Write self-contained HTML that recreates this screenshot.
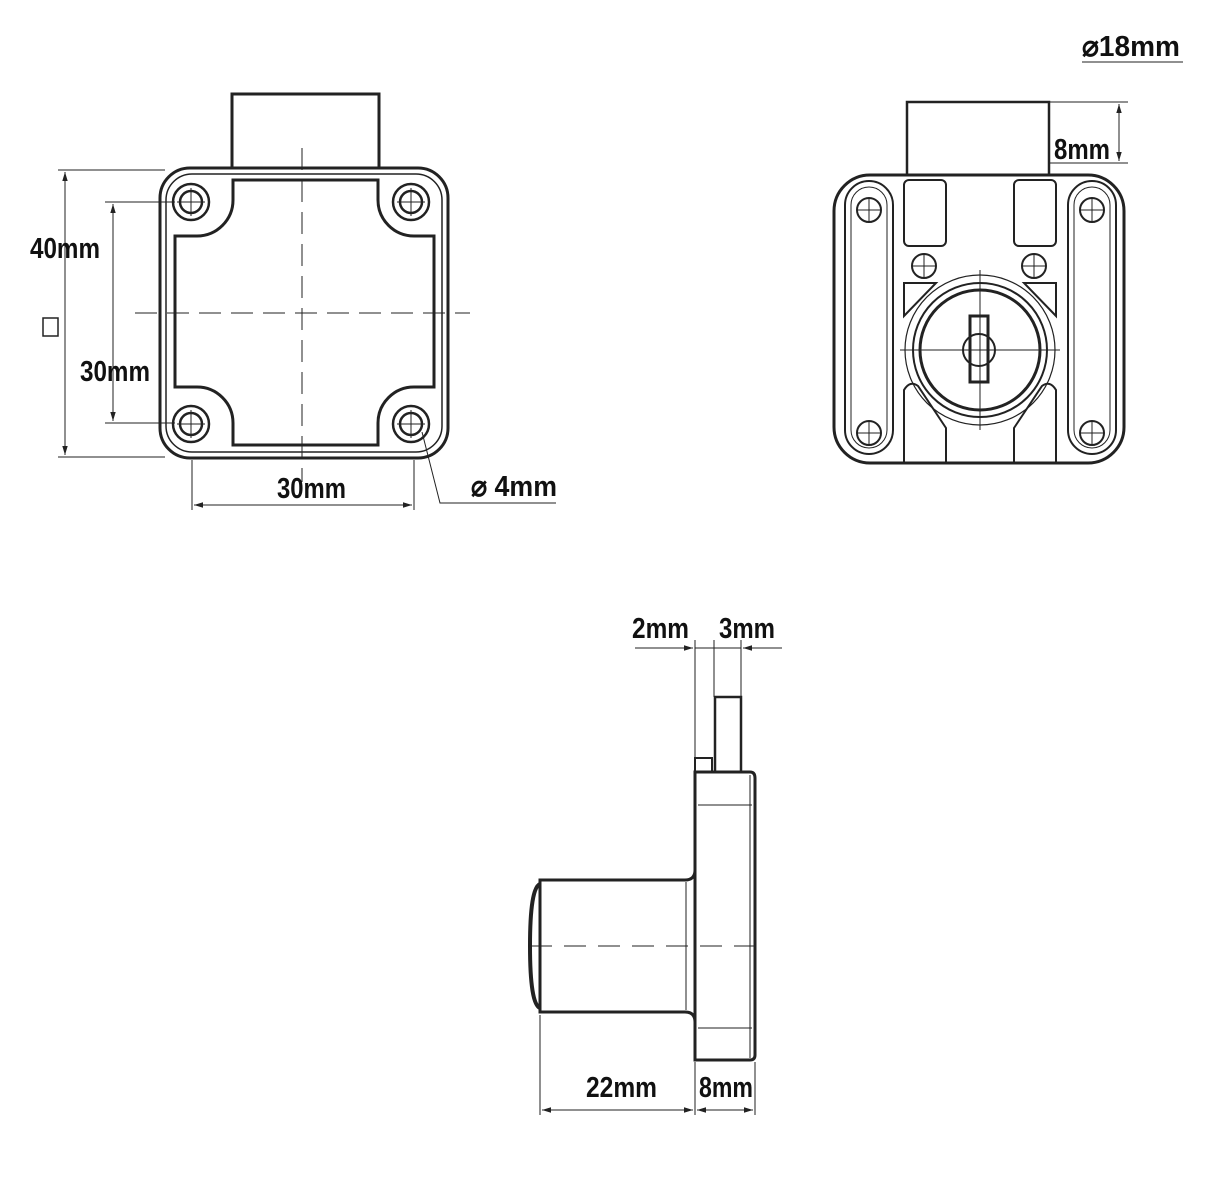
<!DOCTYPE html>
<html><head><meta charset="utf-8"><style>
html,body{margin:0;padding:0;background:#fff}
svg{display:block}
text{font-family:"Liberation Sans Narrow","Liberation Sans",sans-serif;font-weight:bold;font-size:29px;fill:#111}
</style></head><body>
<svg width="1232" height="1189" viewBox="0 0 1232 1189" xmlns="http://www.w3.org/2000/svg">
<defs>
<marker id="a" viewBox="0 0 10 10" refX="10" refY="5" markerWidth="9" markerHeight="9" orient="auto-start-reverse"><path d="M0,2 L10,5 L0,8 z" fill="#222"/></marker>
</defs>
<g fill="none" stroke="#222" stroke-width="3">
<!-- LEFT VIEW -->
<rect x="232" y="94" width="147" height="74"/>
<rect x="160" y="168" width="288" height="290" rx="30"/>
<rect x="166" y="174" width="276" height="278" rx="26" stroke-width="1.5"/>
<path d="M233,180 H378 V200 A36,36 0 0 0 414,236 H434 V387 H414 A36,36 0 0 0 378,423 V445 H233 V423 A36,36 0 0 0 197,387 H175 V236 H197 A36,36 0 0 0 233,200 Z"/>
<g stroke-width="2.5">
<circle cx="191" cy="202" r="18"/><circle cx="191" cy="202" r="11"/>
<circle cx="411" cy="202" r="18"/><circle cx="411" cy="202" r="11"/>
<circle cx="191" cy="424" r="18"/><circle cx="191" cy="424" r="11"/>
<circle cx="411" cy="424" r="18"/><circle cx="411" cy="424" r="11"/>
</g>
<g stroke-width="1">
<path d="M191,188 V216 M177,202 H205 M411,188 V216 M397,202 H425 M191,410 V438 M177,424 H205 M411,410 V438 M397,424 H425"/>
<path d="M302,148 V482" stroke-dasharray="22,10"/>
<path d="M135,313 H470" stroke-dasharray="22,10"/>
<path d="M58,170 H165 M58,457 H165 M105,202 H175 M105,423 H175"/>
<path d="M65,172 V455" marker-start="url(#a)" marker-end="url(#a)"/>
<path d="M113,204 V421" marker-start="url(#a)" marker-end="url(#a)"/>
<path d="M192,460 V510 M414,460 V510"/>
<path d="M194,505 H412" marker-start="url(#a)" marker-end="url(#a)"/>
<path d="M422,432 L440,503 H556"/>
<rect x="43" y="318" width="15" height="18" stroke-width="1.5"/>
</g>
<!-- RIGHT VIEW -->
<rect x="907" y="102" width="142" height="73" stroke-width="2.5"/>
<rect x="834" y="175" width="290" height="288" rx="36"/>
<g stroke-width="2">
<rect x="845" y="181" width="48" height="273" rx="24"/>
<rect x="1068" y="181" width="48" height="273" rx="24"/>
<rect x="851" y="187" width="36" height="261" rx="18" stroke-width="1"/>
<rect x="1074" y="187" width="36" height="261" rx="18" stroke-width="1"/>
<circle cx="869" cy="210" r="12"/><circle cx="1092" cy="210" r="12"/>
<circle cx="869" cy="433" r="12"/><circle cx="1092" cy="433" r="12"/>
<rect x="904" y="180" width="42" height="66" rx="5"/>
<rect x="1014" y="180" width="42" height="66" rx="5"/>
<circle cx="924" cy="266" r="12"/><circle cx="1034" cy="266" r="12"/>
<path d="M904,283 H936 L904,316 Z M1056,283 H1024 L1056,316 Z"/>
<path d="M904,463 V390 Q910,380 918,386 L946,428 V463 M1056,463 V390 Q1050,380 1042,386 L1014,428 V463"/>
<circle cx="980" cy="350" r="75" stroke-width="1.2"/>
<circle cx="980" cy="350" r="67"/>
<circle cx="980" cy="350" r="60" stroke-width="3"/>
<path d="M970,316 H988 V382 H970 Z" stroke-width="3"/>
<circle cx="979" cy="350" r="16" stroke-width="2"/>
</g>
<g stroke-width="1">
<path d="M980,270 V430 M900,350 H1060 M869,198 V222 M857,210 H881 M1092,198 V222 M1080,210 H1104 M869,421 V445 M857,433 H881 M1092,421 V445 M1080,433 H1104 M924,254 V278 M912,266 H936 M1034,254 V278 M1022,266 H1046"/>
<path d="M1050,102 H1128 M1050,163 H1128"/>
<path d="M1119,104 V161" marker-start="url(#a)" marker-end="url(#a)"/>
<path d="M1082,62 H1183"/>
</g>
<!-- BOTTOM VIEW -->
<rect x="715" y="697" width="26" height="75" stroke-width="2.5"/>
<rect x="695" y="758" width="17" height="14" stroke-width="2"/>
<path d="M695,772 H750 Q755,772 755,778 V1055 Q755,1060 750,1060 H695 Z"/>
<path d="M698,805 H752 M698,1028 H752 M750,775 V1058" stroke-width="1"/>
<path d="M695,870 Q695,880 685,880 H540 V1012 H685 Q695,1012 695,1022"/>
<path d="M540,884 Q530,888 530,946 Q530,1004 540,1008" stroke-width="4"/>
<path d="M686,882 V1010" stroke-width="1"/>
<g stroke-width="1">
<path d="M530,946 H760" stroke-dasharray="22,12"/>
<path d="M695,640 V760 M714,640 V697 M741,640 V697"/>
<path d="M635,648 H693" marker-end="url(#a)"/>
<path d="M695,648 H741"/>
<path d="M782,648 H743" marker-end="url(#a)"/>
<path d="M540,1015 V1115 M695,1062 V1115 M755,1062 V1115"/>
<path d="M542,1110 H693" marker-start="url(#a)" marker-end="url(#a)"/>
<path d="M697,1110 H753" marker-start="url(#a)" marker-end="url(#a)"/>
</g>
</g>
<text x="30" y="258" textLength="70" lengthAdjust="spacingAndGlyphs">40mm</text>
<text x="80" y="381" textLength="70" lengthAdjust="spacingAndGlyphs">30mm</text>
<text x="277" y="498" textLength="69" lengthAdjust="spacingAndGlyphs">30mm</text>
<text x="471" y="496" textLength="86" lengthAdjust="spacingAndGlyphs">⌀ 4mm</text>
<text x="1082" y="56" textLength="98" lengthAdjust="spacingAndGlyphs">⌀18mm</text>
<text x="1054" y="159" textLength="56" lengthAdjust="spacingAndGlyphs">8mm</text>
<text x="632" y="638" textLength="57" lengthAdjust="spacingAndGlyphs">2mm</text>
<text x="719" y="638" textLength="56" lengthAdjust="spacingAndGlyphs">3mm</text>
<text x="586" y="1097" textLength="71" lengthAdjust="spacingAndGlyphs">22mm</text>
<text x="699" y="1097" textLength="54" lengthAdjust="spacingAndGlyphs">8mm</text>
</svg>
</body></html>
